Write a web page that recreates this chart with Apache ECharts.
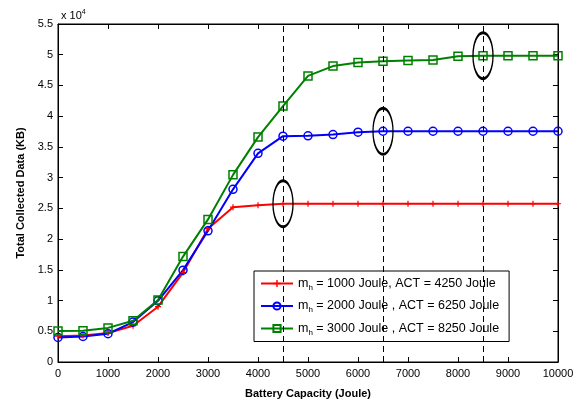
<!DOCTYPE html>
<html>
<head>
<meta charset="utf-8">
<script src="https://cdn.jsdelivr.net/npm/echarts@6/dist/echarts.min.js"></script>
<style>
  html, body { margin: 0; padding: 0; background: #fff; }
  #chart { width: 587px; height: 407px; }
</style>
</head>
<body>
<div id="chart"></div>
<script>
// battery capacity (Joule)
const capacity = [0, 500, 1000, 1500, 2000, 2500, 3000, 3500, 4000, 4500, 5000,
  5500, 6000, 6500, 7000, 7500, 8000, 8500, 9000, 9500, 10000]

// total collected data (KB)
const mh1000 = [4200, 4300, 4700, 5900, 9000, 14550, 21700, 25200, 25500, 25750, 25750,
  25750, 25750, 25750, 25750, 25750, 25750, 25750, 25750, 25750, 25750]
const mh2000 = [4000, 4150, 4600, 6500, 9950, 14950, 21350, 28100, 33950, 36750, 36800,
  37000, 37400, 37550, 37550, 37550, 37550, 37550, 37550, 37550, 37550]
const mh3000 = [5050, 5100, 5550, 6700, 10100, 17150, 23200, 30450, 36600, 41650, 46550,
  48150, 48750, 48950, 49050, 49150, 49750, 49850, 49850, 49850, 49850]

const actLines = [4500, 6500, 8500]
const legendText = [
  ' = 1000 Joule, ACT = 4250 Joule',
  ' = 2000 Joule , ACT = 6250 Joule',
  ' = 3000 Joule , ACT = 8250 Joule'
]
const names = ['mh1000', 'mh2000', 'mh3000']

const pairs = (ys) => capacity.map((x, i) => [x, ys[i]])

const chart = echarts.init(document.getElementById('chart'))
const font = 'Liberation Sans, Arial, sans-serif'
const plus = 'path://M4,0H6V4H10V6H6V10H4V6H0V4H4Z'

function series(idx, data, color, symbol, size, ellipseAt) {
  const s = {
    name: names[idx],
    type: 'line',
    data: pairs(data),
    symbol: symbol,
    symbolSize: size,
    showAllSymbol: true,
    lineStyle: { color: color, width: 2 },
    itemStyle: symbol === plus
      ? { color: color }
      : { color: 'rgba(0,0,0,0)', borderColor: color, borderWidth: 1.5 },
    z: 3
  }
  if (ellipseAt != null) {
    s.markPoint = {
      symbol: 'circle',
      symbolSize: [20, 46],
      silent: true,
      itemStyle: { color: 'rgba(0,0,0,0)', borderColor: '#000', borderWidth: 2 },
      label: { show: false },
      data: [{ coord: [ellipseAt, data[capacity.indexOf(ellipseAt)]] }]
    }
  }
  return s
}

const red = series(0, mh1000, '#ff0000', plus, 6, actLines[0])
red.markLine = {
  symbol: 'none',
  silent: true,
  label: { show: false },
  lineStyle: { color: '#000', type: [6, 4], width: 1 },
  data: actLines.map(x => ({ xAxis: x }))
}

const tick = { inside: true, length: 5, lineStyle: { color: '#000' } }
const line = { onZero: false, lineStyle: { color: '#000' } }

const option = {
  animation: false,
  title: {
    text: '{a|x 10}{b|4}',
    left: 56,
    top: 4,
    textStyle: {
      rich: {
        a: { fontFamily: font, fontSize: 11, fontWeight: 'normal', color: '#000' },
        b: { fontFamily: font, fontSize: 7, fontWeight: 'normal', color: '#000', verticalAlign: 'top', padding: [0, 0, 6, 0] }
      }
    }
  },
  grid: { left: 58, right: 29, top: 24, bottom: 45, show: true, borderColor: '#000', borderWidth: 1 },
  legend: {
    orient: 'vertical',
    left: 254,
    top: 271,
    padding: [6, 10, 5, 6],
    itemGap: 8,
    itemWidth: 32,
    itemHeight: 9,
    backgroundColor: '#fff',
    borderColor: '#000',
    borderWidth: 1,
    data: names,
    formatter: (n) => '{m|m}{s|h}{t|' + legendText[names.indexOf(n)] + '}',
    textStyle: {
      rich: {
        m: { fontFamily: font, fontSize: 12.5, color: '#000' },
        s: { fontFamily: font, fontSize: 8, color: '#000', verticalAlign: 'bottom', padding: [8, 0, 0, 0] },
        t: { fontFamily: font, fontSize: 12.5, color: '#000' }
      }
    }
  },
  xAxis: [{
    type: 'value',
    min: 0, max: 10000, interval: 1000,
    name: 'Battery Capacity (Joule)',
    nameLocation: 'middle',
    nameGap: 26,
    nameTextStyle: { fontFamily: font, fontSize: 11, fontWeight: 'bold', color: '#000' },
    axisLine: line,
    axisTick: tick,
    axisLabel: { fontFamily: font, fontSize: 11, color: '#000', margin: 6, formatter: (v) => String(v) },
    splitLine: { show: false }
  }, {
    type: 'value', position: 'top',
    min: 0, max: 10000, interval: 1000,
    axisLine: line,
    axisTick: tick,
    axisLabel: { show: false },
    splitLine: { show: false }
  }],
  yAxis: [{
    type: 'value',
    min: 0, max: 55000, interval: 5000,
    name: 'Total Collected Data (KB)',
    nameLocation: 'middle',
    nameGap: 25,
    nameTextStyle: { fontFamily: font, fontSize: 11, fontWeight: 'bold', color: '#000' },
    axisLine: line,
    axisTick: tick,
    axisLabel: { fontFamily: font, fontSize: 11, color: '#000', margin: 5, formatter: (v) => String(v / 10000) },
    splitLine: { show: false }
  }, {
    type: 'value', position: 'right',
    min: 0, max: 55000, interval: 5000,
    axisLine: line,
    axisTick: tick,
    axisLabel: { show: false },
    splitLine: { show: false }
  }],
  series: [
    red,
    series(1, mh2000, '#0000ff', 'circle', 8, actLines[1]),
    series(2, mh3000, '#008000', 'rect', 8, actLines[2])
  ]
}

chart.setOption(option)
</script>
</body>
</html>
